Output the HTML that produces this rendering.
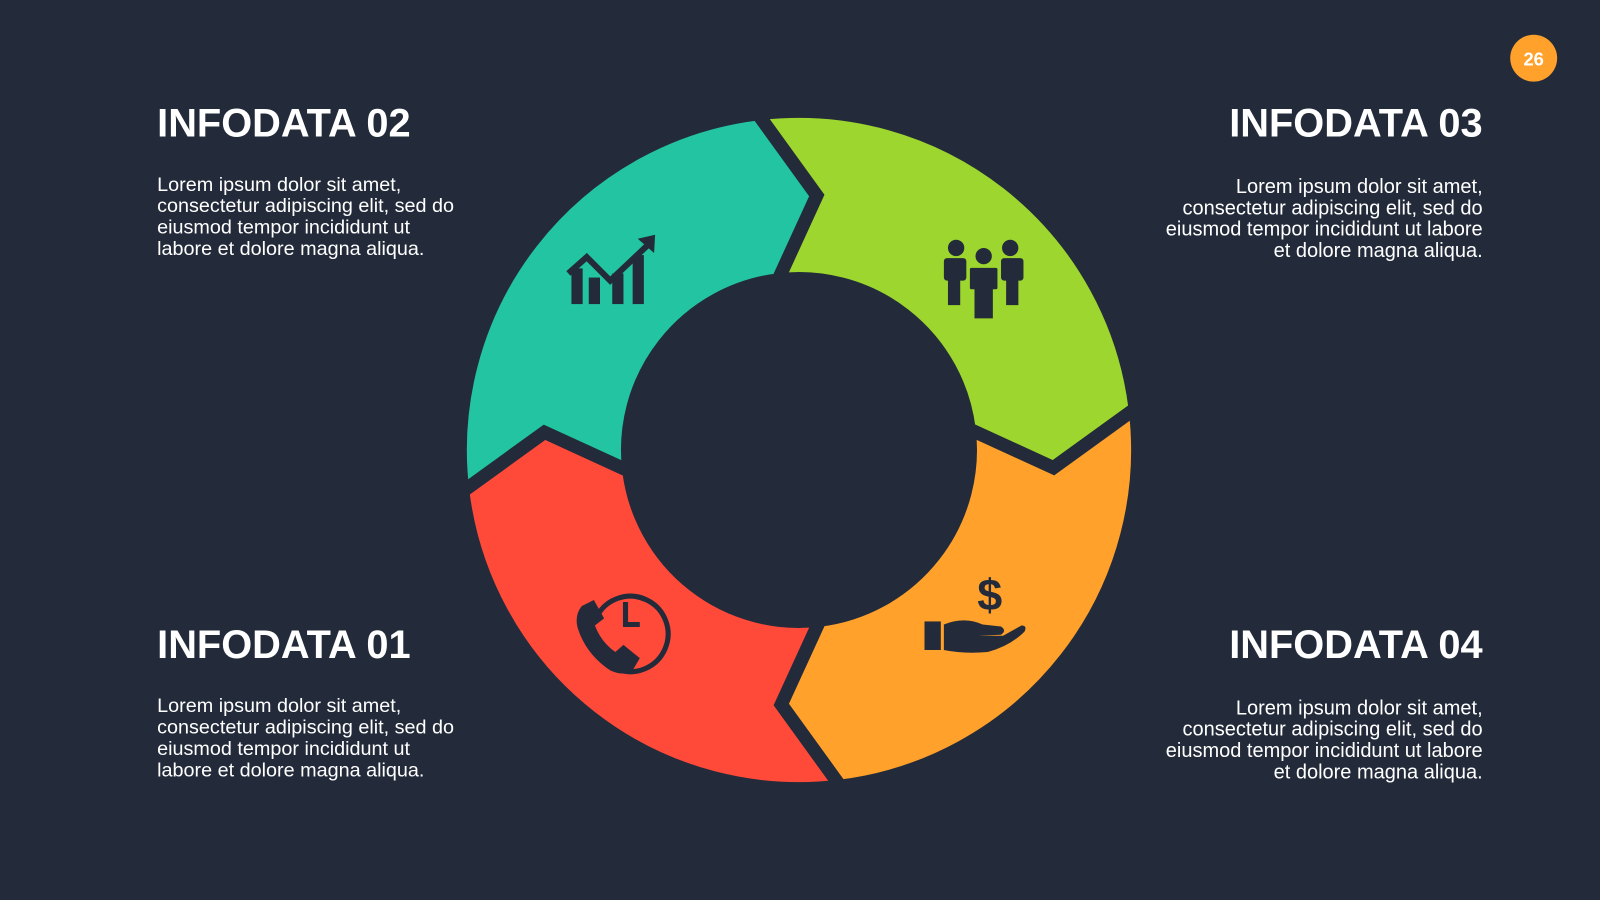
<!DOCTYPE html>
<html><head><meta charset="utf-8"><style>
html,body{margin:0;padding:0;background:#232b3a;}
svg{display:block}
text{font-family:"Liberation Sans",Arial,sans-serif;}
</style></head><body>
<svg width="1600" height="900" viewBox="0 0 1568 882" xmlns="http://www.w3.org/2000/svg">
<rect width="1568" height="882" fill="#232b3a"/>
<g stroke="#232b3a" stroke-width="13" stroke-linejoin="miter">
<path fill="#9dd62e" d="M742.5,111.5 A332,332 0 0 1 1112.5,400.5 L1032.4,458.4 L949.7,420.5 A168,168 0 0 0 762.5,274.3 L800.4,191.6 Z"/>
<path fill="#ffa12b" d="M1112.5,400.5 A332,332 0 0 1 823.5,770.5 L765.6,690.4 L803.5,607.7 A168,168 0 0 0 949.7,420.5 L1032.4,458.4 Z"/>
<path fill="#ff4a3a" d="M823.5,770.5 A332,332 0 0 1 453.5,481.5 L533.6,423.6 L616.3,461.5 A168,168 0 0 0 803.5,607.7 L765.6,690.4 Z"/>
<path fill="#22c4a2" d="M453.5,481.5 A332,332 0 0 1 742.5,111.5 L800.4,191.6 L762.5,274.3 A168,168 0 0 0 616.3,461.5 L533.6,423.6 Z"/>
</g>
<circle cx="1503" cy="57" r="23" fill="#ffa12b"/>
<text x="1503" y="64" font-size="18" font-weight="bold" fill="#fff" text-anchor="middle">26</text>

<g fill="#fff">
<text x="154" y="134" font-size="39" font-weight="bold">INFODATA 02</text>
<text font-size="19.4"><tspan x="154" y="187">Lorem ipsum dolor sit amet,</tspan><tspan x="154" y="208">consectetur adipiscing elit, sed do</tspan><tspan x="154" y="229">eiusmod tempor incididunt ut</tspan><tspan x="154" y="250">labore et dolore magna aliqua.</tspan></text>
<text x="154" y="645" font-size="39" font-weight="bold">INFODATA 01</text>
<text font-size="19.4"><tspan x="154" y="698">Lorem ipsum dolor sit amet,</tspan><tspan x="154" y="719">consectetur adipiscing elit, sed do</tspan><tspan x="154" y="740">eiusmod tempor incididunt ut</tspan><tspan x="154" y="761">labore et dolore magna aliqua.</tspan></text>
<text x="1453" y="134" font-size="39" font-weight="bold" text-anchor="end">INFODATA 03</text>
<text font-size="19.6" text-anchor="end"><tspan x="1453" y="189">Lorem ipsum dolor sit amet,</tspan><tspan x="1453" y="210">consectetur adipiscing elit, sed do</tspan><tspan x="1453" y="231">eiusmod tempor incididunt ut labore</tspan><tspan x="1453" y="252">et dolore magna aliqua.</tspan></text>
<text x="1453" y="645" font-size="39" font-weight="bold" text-anchor="end">INFODATA 04</text>
<text font-size="19.6" text-anchor="end"><tspan x="1453" y="700">Lorem ipsum dolor sit amet,</tspan><tspan x="1453" y="721">consectetur adipiscing elit, sed do</tspan><tspan x="1453" y="742">eiusmod tempor incididunt ut labore</tspan><tspan x="1453" y="763">et dolore magna aliqua.</tspan></text>
</g>

<g fill="#232b3a" stroke="none">
  <rect x="560" y="263" width="11" height="35"/><rect x="577" y="272" width="11" height="26"/><rect x="600" y="268" width="11" height="30"/><rect x="620" y="250" width="11" height="48"/>
  <polyline points="557,268 575,252 598,275 635,240" fill="none" stroke="#232b3a" stroke-width="6"/>
  <polygon points="642,230 641,248 625,234"/>
  <circle cx="937" cy="243" r="8"/><circle cx="990" cy="243" r="8"/><circle cx="964" cy="251" r="8"/>
  <rect x="925" y="253" width="22" height="22" rx="3"/><rect x="929" y="272" width="12" height="27"/>
  <rect x="981" y="253" width="22" height="22" rx="3"/><rect x="986" y="272" width="12" height="27"/>
  <rect x="949" y="261" width="30" height="24" rx="3" stroke="#9dd62e" stroke-width="3"/><rect x="955" y="282" width="18" height="30"/>
  <path d="M585 604 a37 37 0 1 1 20 52" fill="none" stroke="#232b3a" stroke-width="5"/>
  <path d="M613 590 v22 h14" fill="none" stroke="#232b3a" stroke-width="5"/>
  <path d="M570 594 l12 -6 l10 18 l-9 7 q6 16 20 26 l8 -7 l16 13 l-7 12 q-10 6 -22 0 q-24 -16 -32 -42 q-3 -12 4 -21z"/>
  <text x="970" y="598" font-size="44" font-weight="bold" fill="#232b3a" text-anchor="middle">$</text>
  <rect x="906" y="609" width="16" height="28"/>
  <path d="M925 612 q20 -8 38 0 l18 2 q6 4 0 8 l-22 1 l24 0 l18 -10 q6 0 3 6 q-14 14 -36 20 q-24 2 -43 -2z"/>
</g>
</svg>
</body></html>
